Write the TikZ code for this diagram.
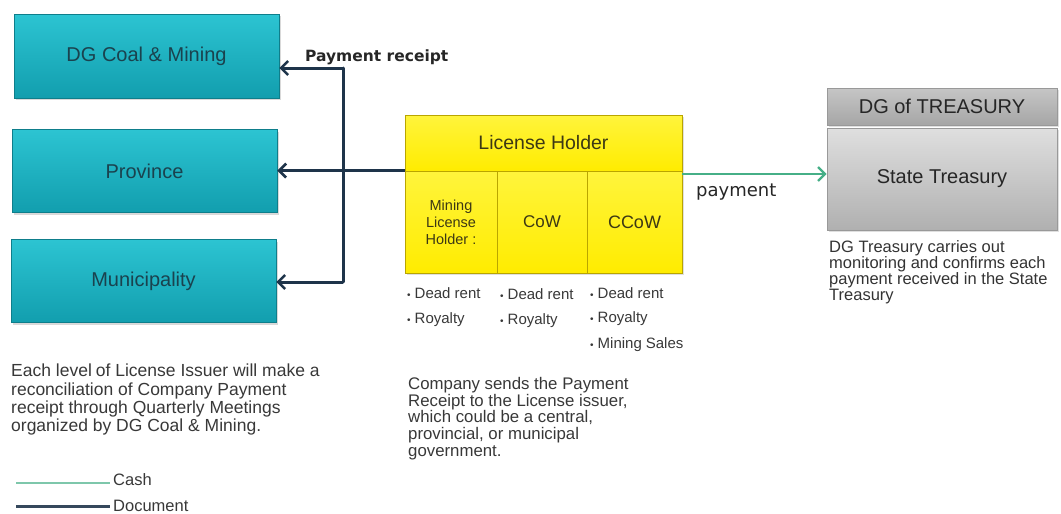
\documentclass[tikz,border=0pt]{standalone}
\usepackage{fontspec}
\setmainfont{Liberation Sans}
\newfontfamily\dejavu{DejaVu Sans}
\usetikzlibrary{arrows.meta,shadows}
\definecolor{tealtop}{RGB}{44,196,210}
\definecolor{tealbot}{RGB}{18,158,174}
\definecolor{tealtxt}{RGB}{26,66,78}
\definecolor{yel}{RGB}{255,236,0}
\definecolor{yeltop}{RGB}{255,244,60}
\definecolor{yelbd}{RGB}{185,165,0}
\definecolor{yeltxt}{RGB}{60,56,20}
\definecolor{docc}{RGB}{30,52,74}
\definecolor{cashc}{RGB}{70,175,135}
\definecolor{txtg}{RGB}{56,56,56}
\begin{document}
\begin{tikzpicture}[x=1pt,y=-1pt,
  tealbox/.style={draw=tealbot!80!black, line width=0.6pt, top color=tealtop, bottom color=tealbot,
    font=\fontsize{20}{22}\selectfont, text=tealtxt, inner sep=0pt,
    drop shadow={opacity=0.3, shadow xshift=2pt, shadow yshift=-2pt}},
  yelbox/.style={draw=yelbd, line width=0.8pt, top color=yeltop, bottom color=yel, text=yeltxt, inner sep=0pt,
    drop shadow={opacity=0.25, shadow xshift=2pt, shadow yshift=-2pt}},
  graybox/.style={draw=gray!80, line width=0.6pt, text=black!85, inner sep=0pt,
    font=\fontsize{20}{22}\selectfont,
    drop shadow={opacity=0.25, shadow xshift=2pt, shadow yshift=-2pt}},
  doc/.style={draw=docc, line width=3pt},
  docarrow/.style={doc, -{Straight Barb[length=7pt,width=14pt,line width=2.6pt]}},
  cash/.style={draw=cashc, line width=2.6pt, -{Straight Barb[length=7pt,width=14pt,line width=2.4pt]}},
  note/.style={anchor=north west, align=left, inner sep=0pt, text=txtg},
  bullet/.style={anchor=west, inner sep=0pt, text=txtg, font=\fontsize{15}{17}\selectfont}
]
\useasboundingbox (0,0) rectangle (1061,514);

% left boxes
\node[tealbox, minimum width=265pt, minimum height=84pt] (dg) at (146.5,56) {DG Coal \& Mining};
\node[tealbox, minimum width=265pt, minimum height=83pt] (prov) at (144.5,171) {Province};
\node[tealbox, minimum width=265pt, minimum height=83pt] (mun) at (143.5,281) {Municipality};

% license holder
\node[yelbox, minimum width=277pt, minimum height=56pt, font=\fontsize{19.5}{22}\selectfont] (lh) at (543.5,143) {License Holder};
\node[yelbox, minimum width=92pt, minimum height=102pt, align=center, font=\fontsize{14.5}{17}\selectfont] (c1) at (451,222) {Mining\\License\\Holder :};
\node[yelbox, minimum width=90pt, minimum height=102pt, font=\fontsize{17}{20}\selectfont] (c2) at (542,222) {CoW};
\node[yelbox, minimum width=95pt, minimum height=102pt, font=\fontsize{18}{20}\selectfont] (c3) at (634.5,222) {CCoW};

% treasury
\node[graybox, top color=gray!45, bottom color=gray!70, minimum width=230pt, minimum height=37pt] (dgt) at (942,106.5) {DG of TREASURY};
\node[graybox, top color=gray!25, bottom color=gray!62, minimum width=230pt, minimum height=102pt] (st) at (942,179) {State Treasury};

% document connectors
\coordinate (jt) at (343,68);
\coordinate (jb) at (343,282);
\draw[doc, line cap=round] (jt) -- (jb);
\draw[docarrow] (jt) -- (dg.east |- jt);
\draw[docarrow] (jb) -- (mun.east |- jb);
\draw[docarrow] (c1.north west) -- (prov.east |- c1.north west);
\node[anchor=west, inner sep=0pt, font=\dejavu\bfseries\fontsize{15.5}{18}\selectfont, text=black!85] (pr) at (305,57) {Payment receipt};

% cash connector
\coordinate (cs) at (c3.east |- 0,174);
\draw[cash] (cs) -- (st.west |- cs);
\node[anchor=west, inner sep=0pt, font=\dejavu\fontsize{18}{20}\selectfont, text=black!85] (pay) at (696,192) {payment};

% bullets
\newcommand{\bul}{{\fontsize{10}{10}\selectfont •}\hspace{4pt}}
\node[bullet] (b11) at (407,293) {\bul Dead rent};
\node[bullet] (b12) at (407,320) {\bul Royalty};
\node[bullet] (b21) at (500,294) {\bul Dead rent};
\node[bullet] (b22) at (500,321) {\bul Royalty};
\node[bullet] (b31) at (590,293) {\bul Dead rent};
\node[bullet] (b32) at (590,319) {\bul Royalty};
\node[bullet] (b33) at (590,345) {\bul Mining\hspace{4pt}Sales};

% notes
\node[note, font=\fontsize{17.5}{18.3}\selectfont] (n1) at (11,364) {Each level\hspace{4pt}of License Issuer will make a\\reconciliation of Company Payment\\receipt through Quarterly Meetings\\organized by DG Coal \& Mining.};
\node[note, font=\fontsize{16.8}{16.7}\selectfont] (n2) at (408,377) {Company sends the Payment\\Receipt to the License issuer,\\which could be a central,\\provincial, or municipal\\government.};
\node[note, font=\fontsize{16.5}{16}\selectfont, text=black!80] (n3) at (829,240) {DG Treasury carries out\\monitoring and confirms each\\payment received in the State\\Treasury};

% legend
\coordinate (lc1) at (16,483); \coordinate (lc2) at (110,483);
\coordinate (ld1) at (16,506); \coordinate (ld2) at (110,506);
\draw[draw=cashc!70, line width=2.6pt] (lc1) -- (lc2);
\draw[draw=docc!90, line width=3pt] (ld1) -- (ld2);
\node[anchor=west, inner sep=0pt, text=txtg, font=\fontsize{16.5}{18}\selectfont] (lcash) at (113,480) {Cash};
\node[anchor=west, inner sep=0pt, text=txtg, font=\fontsize{16.5}{18}\selectfont] (ldoc) at (113,506) {Document};
\end{tikzpicture}
\end{document}
